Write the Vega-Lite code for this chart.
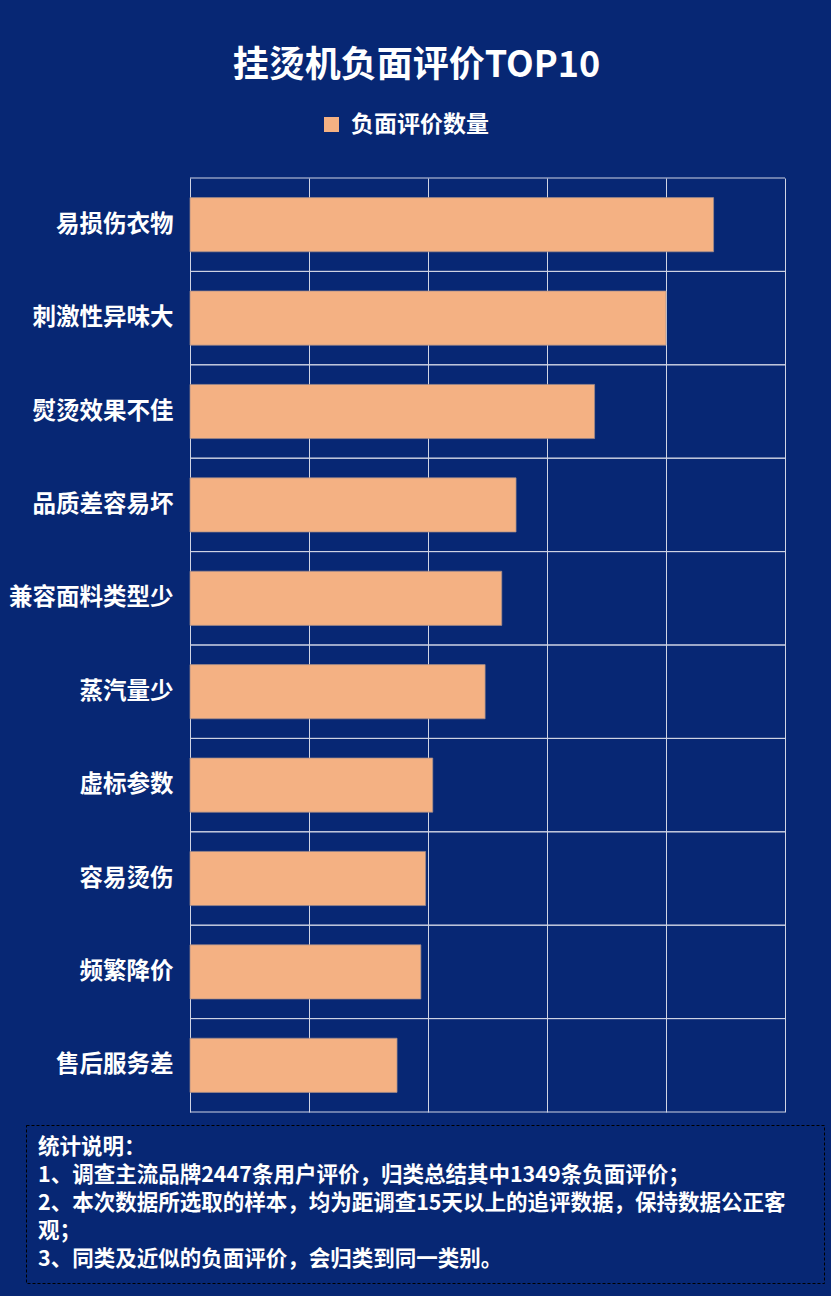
{
  "$schema": "https://vega.github.io/schema/vega-lite/v6.json",
  "background": "#072774",
  "padding": {"left": 8, "right": 7, "top": 48, "bottom": 12},
  "title": {
    "text": "挂烫机负面评价TOP10",
    "font": "Noto Sans CJK SC",
    "fontSize": 36,
    "fontWeight": "bold",
    "color": "white",
    "anchor": "middle",
    "offset": 28
  },
  "config": {
    "font": "Noto Sans CJK SC",
    "axis": {"labelColor": "white", "labelFont": "Noto Sans CJK SC"}
  },
  "spacing": 11,
  "resolve": {"legend": {"color": "independent"}},
  "vconcat": [
    {
      "width": 759,
      "height": 934,
      "view": {"stroke": null},
      "data": {
        "values": [
          {"category": "易损伤衣物", "count": 220},
          {"category": "刺激性异味大", "count": 200},
          {"category": "熨烫效果不佳", "count": 170},
          {"category": "品质差容易坏", "count": 137},
          {"category": "兼容面料类型少", "count": 131},
          {"category": "蒸汽量少", "count": 124},
          {"category": "虚标参数", "count": 102},
          {"category": "容易烫伤", "count": 99},
          {"category": "频繁降价", "count": 97},
          {"category": "售后服务差", "count": 87}
        ]
      },
      "encoding": {
        "y": {
          "field": "category",
          "type": "nominal",
          "sort": ["易损伤衣物", "刺激性异味大", "熨烫效果不佳", "品质差容易坏", "兼容面料类型少", "蒸汽量少", "虚标参数", "容易烫伤", "频繁降价", "售后服务差"],
          "scale": {"paddingInner": 0, "paddingOuter": 0},
          "axis": {
            "title": null,
            "offset": -164,
            "ticks": false,
            "domain": false,
            "grid": false,
            "labelFontSize": 23.5,
            "labelFontWeight": "bold",
            "labelPadding": 17,
            "labelLimit": 300
          }
        }
      },
      "layer": [
        {
          "mark": {"type": "rule", "color": "#d0d4e4", "strokeWidth": 1},
          "encoding": {
            "y": {"field": "category", "type": "nominal", "bandPosition": 0},
            "x": {"datum": 0, "type": "quantitative"},
            "x2": {"datum": 250}
          }
        },
        {
          "mark": {"type": "rule", "color": "#d0d4e4", "strokeWidth": 1},
          "encoding": {
            "y": {"field": "category", "type": "nominal", "bandPosition": 1},
            "x": {"datum": 0, "type": "quantitative"},
            "x2": {"datum": 250}
          }
        },
        {
          "mark": {
            "type": "bar",
            "height": {"band": 0.58},
            "stroke": "#a08c8c",
            "strokeOpacity": 0.7,
            "strokeWidth": 1
          },
          "encoding": {
            "x": {
              "field": "count",
              "type": "quantitative",
              "scale": {"domain": [0, 250], "nice": false, "range": [164, 759]},
              "axis": {
                "title": null,
                "values": [0, 50, 100, 150, 200, 250],
                "labels": false,
                "ticks": false,
                "domain": false,
                "grid": true,
                "gridColor": "#d0d4e4",
                "gridWidth": 1,
                "maxExtent": 0
              }
            },
            "color": {
              "datum": "负面评价数量",
              "type": "nominal",
              "scale": {"range": ["#f4b183"]},
              "legend": {
                "title": null,
                "orient": "none",
                "legendX": 294,
                "legendY": -65,
                "symbolType": "square",
                "symbolSize": 225,
                "symbolStrokeWidth": 0,
                "labelColor": "white",
                "labelFont": "Noto Sans CJK SC",
                "labelFontSize": 23,
                "labelFontWeight": "bold",
                "labelOffset": 8
              }
            }
          }
        }
      ]
    },
    {
      "width": 798,
      "height": 158,
      "view": {"stroke": "black", "strokeDash": [3, 2], "strokeWidth": 1},
      "data": {
        "values": [
          {"line": 1, "text": "统计说明："},
          {"line": 2, "text": "1、调查主流品牌2447条用户评价，归类总结其中1349条负面评价；"},
          {"line": 3, "text": "2、本次数据所选取的样本，均为距调查15天以上的追评数据，保持数据公正客"},
          {"line": 4, "text": "观；"},
          {"line": 5, "text": "3、同类及近似的负面评价，会归类到同一类别。"}
        ]
      },
      "mark": {
        "type": "text",
        "align": "left",
        "baseline": "middle",
        "dx": 12,
        "color": "white",
        "font": "Noto Sans CJK SC",
        "fontSize": 21.5,
        "fontWeight": "bold"
      },
      "encoding": {
        "y": {
          "field": "line",
          "type": "ordinal",
          "scale": {"type": "point", "padding": 0.82, "align": 0.5},
          "axis": null
        },
        "x": {
          "datum": 0,
          "type": "quantitative",
          "scale": {"domain": [0, 1]},
          "axis": null
        },
        "text": {"field": "text", "type": "nominal"}
      }
    }
  ]
}
